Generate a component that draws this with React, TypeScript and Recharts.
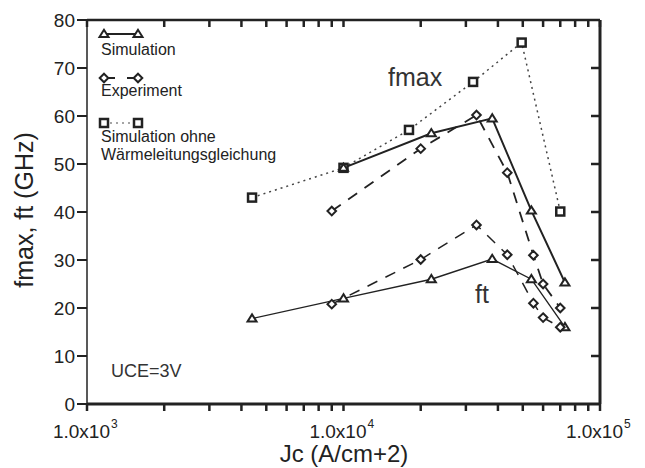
import React from 'react';
import { LineChart, Line, XAxis, YAxis, Legend, Label } from 'recharts';

// values (x: current density, y: GHz)
const SIM_FMAX_X = [10000, 22000, 38000, 54000, 73000];
const SIM_FMAX_Y = [49.2, 56.4, 59.5, 40.3, 25.3];
const EXP_FMAX_X = [9000, 20000, 33000, 43500, 55000, 60000, 70000];
const EXP_FMAX_Y = [40.2, 53.2, 60.2, 48.2, 31, 25, 20];
const NOHEAT_X = [4400, 10000, 18000, 32000, 49500, 70000];
const NOHEAT_Y = [43, 49.2, 57.1, 67.1, 75.3, 40.1];
const SIM_FT_X = [4400, 10000, 22000, 38000, 54000, 73000];
const SIM_FT_Y = [17.8, 22, 26, 30.2, 26, 16];
const EXP_FT_X = [9000, 20000, 33000, 43500, 55000, 60000, 70000];
const EXP_FT_Y = [20.8, 30.1, 37.3, 31.1, 21, 18, 16];

const X_TICKS = [
  1000, 2000, 3000, 4000, 5000, 6000, 7000, 8000, 9000,
  10000, 20000, 30000, 40000, 50000, 60000, 70000, 80000, 90000, 100000,
];
const X_MAJOR = [1000, 10000, 100000];
const X_EXP: Record<number, string> = { 1000: '3', 10000: '4', 100000: '5' };
const Y_TICKS = [0, 10, 20, 30, 40, 50, 60, 70, 80];
const Y_RIGHT_TICKS = [10, 20, 30, 40, 50, 60, 70];

const INK = '#222';
const FONT = '"Liberation Sans", Arial, sans-serif';

const toPoints = (xs: number[], ys: number[]) => xs.map((x, i) => ({ x, y: ys[i] }));

const Triangle = ({ cx, cy }: any) => (
  <polygon
    points={`${cx},${cy - 4.2} ${cx - 4.5},${cy + 3} ${cx + 4.5},${cy + 3}`}
    fill="#fff" stroke={INK} strokeWidth={2}
  />
);
const Diamond = ({ cx, cy }: any) => (
  <polygon
    points={`${cx},${cy - 4.3} ${cx + 4.3},${cy} ${cx},${cy + 4.3} ${cx - 4.3},${cy}`}
    fill="#fff" stroke={INK} strokeWidth={2}
  />
);
const Square = ({ cx, cy }: any) => (
  <rect x={cx - 4} y={cy - 4} width={8} height={8} fill="#fff" stroke={INK} strokeWidth={2.5} />
);

// label only on the decades: "1.0x10" with a small raised exponent
const XTick = (props: any) => {
  const { x, y, payload } = props;
  const v = payload.value;
  if (!X_MAJOR.includes(v)) return <g />;
  return (
    <g>
      <text x={x + 23} y={y + 27} textAnchor="end" fontSize={19} fill={INK} fontFamily={FONT}>
        1.0x10
      </text>
      <text x={x + 24} y={y + 17} fontSize={12} fill={INK} fontFamily={FONT}>
        {X_EXP[v]}
      </text>
    </g>
  );
};

const EmptyTick = () => <g />;

const Overlay = () => (
  <svg width={645} height={468} style={{ position: 'absolute', left: 0, top: 0 }} fontFamily={FONT}>
    {/* legend */}
    <line x1={104} y1={34} x2={138} y2={34} stroke={INK} strokeWidth={2} />
    <Triangle cx={104} cy={34} />
    <Triangle cx={138} cy={34} />
    <text x={101} y={55} fontSize={16} fill={INK}>Simulation</text>

    <line x1={104} y1={78} x2={138} y2={78} stroke={INK} strokeWidth={2} strokeDasharray="11 12" />
    <Diamond cx={104} cy={78} />
    <Diamond cx={138} cy={78} />
    <text x={101} y={96} fontSize={16} fill={INK}>Experiment</text>

    <line x1={104} y1={123} x2={138} y2={123} stroke="#888" strokeWidth={1.5} strokeDasharray="2 4" />
    <Square cx={104} cy={123} />
    <Square cx={138} cy={123} />
    <text x={101} y={142} fontSize={16} fill={INK}>Simulation ohne</text>
    <text x={101} y={160} fontSize={16} fill={INK}>Wärmeleitungsgleichung</text>

    {/* annotations */}
    <text x={388} y={86} fontSize={25} fill="#333">fmax</text>
    <text x={475} y={303} fontSize={25} fill="#333">ft</text>
    <text x={111} y={377} fontSize={18} fill="#333">UCE=3V</text>
  </svg>
);

const YTitle = (props: any) => {
  const vb = props.viewBox || { x: 0, y: 20, width: 87, height: 384 };
  const cx = 24;
  const cy = vb.y + vb.height / 2 - 2;
  return (
    <text
      x={cx} y={cy} transform={`rotate(-90 ${cx} ${cy})`} textAnchor="middle"
      dominantBaseline="central" fontSize={25} fill={INK} fontFamily={FONT}
    >
      fmax, ft (GHz)
    </text>
  );
};

const XTitle = () => (
  <text x={344} y={462} textAnchor="middle" fontSize={24} fill={INK} fontFamily={FONT}>
    Jc (A/cm+2)
  </text>
);

export default function App() {
  return (
    <div style={{ position: 'absolute', left: 0, top: 0, width: 645, height: 468, background: '#fff' }}>
      <LineChart width={645} height={468} margin={{ top: 10, right: 35, bottom: 0, left: 0 }}>
        <XAxis
          dataKey="x" type="number" scale="log" domain={[1000, 100000]} allowDataOverflow
          ticks={X_TICKS} interval={0} height={64} tickSize={7} tickMargin={0}
          tickLine={{ stroke: INK, strokeWidth: 2.5 }} tick={<XTick />}
          axisLine={{ stroke: INK, strokeWidth: 3 }}
        >
          <Label content={<XTitle />} />
        </XAxis>
        {/* top frame, ticks pointing into the plot */}
        <XAxis
          xAxisId="top" orientation="top" dataKey="x" type="number" scale="log" domain={[1000, 100000]}
          allowDataOverflow ticks={X_TICKS} interval={0} height={10} tickSize={-7} tickMargin={0}
          tickLine={{ stroke: INK, strokeWidth: 2.5 }} tick={<EmptyTick />}
          axisLine={{ stroke: INK, strokeWidth: 2.5 }}
        />
        <YAxis
          type="number" domain={[0, 80]} ticks={Y_TICKS} interval={0} width={87}
          tickSize={10} tickMargin={2} tick={{ fontSize: 19, fill: INK, fontFamily: FONT }}
          tickLine={{ stroke: INK, strokeWidth: 2 }} axisLine={{ stroke: INK, strokeWidth: 1.5 }}
        >
          <Label content={<YTitle />} />
        </YAxis>
        {/* right frame, ticks pointing into the plot */}
        <YAxis
          yAxisId="right" orientation="right" type="number" domain={[0, 80]} allowDataOverflow
          ticks={Y_RIGHT_TICKS} interval={0} width={10} tickSize={-9} tickMargin={0}
          tickLine={{ stroke: INK, strokeWidth: 2.5 }} tick={<EmptyTick />}
          axisLine={{ stroke: INK, strokeWidth: 3 }}
        />

        {/* invisible copy bound to the top/right frame axes so they render */}
        <Line
          xAxisId="top" yAxisId="right" data={toPoints(NOHEAT_X, NOHEAT_Y)} dataKey="y"
          stroke="none" dot={false} activeDot={false} legendType="none" isAnimationActive={false}
        />

        <Line
          data={toPoints(NOHEAT_X, NOHEAT_Y)} dataKey="y" stroke="#444" strokeWidth={1.5}
          strokeDasharray="2 4" dot={<Square />} activeDot={false} isAnimationActive={false}
        />
        <Line
          data={toPoints(SIM_FMAX_X, SIM_FMAX_Y)} dataKey="y" stroke={INK} strokeWidth={2}
          dot={<Triangle />} activeDot={false} isAnimationActive={false}
        />
        <Line
          data={toPoints(SIM_FT_X, SIM_FT_Y)} dataKey="y" stroke={INK} strokeWidth={1.4}
          dot={<Triangle />} activeDot={false} isAnimationActive={false}
        />
        <Line
          data={toPoints(EXP_FMAX_X, EXP_FMAX_Y)} dataKey="y" stroke={INK} strokeWidth={1.8}
          strokeDasharray="11 9" dot={<Diamond />} activeDot={false} isAnimationActive={false}
        />
        <Line
          data={toPoints(EXP_FT_X, EXP_FT_Y)} dataKey="y" stroke={INK} strokeWidth={1.5}
          strokeDasharray="11 9" dot={<Diamond />} activeDot={false} isAnimationActive={false}
        />

        <Legend
          layout="vertical" align="center" verticalAlign="middle" content={<Overlay />}
          wrapperStyle={{ left: 0, top: 0, width: 645, height: 468, pointerEvents: 'none' }}
        />
      </LineChart>
    </div>
  );
}
